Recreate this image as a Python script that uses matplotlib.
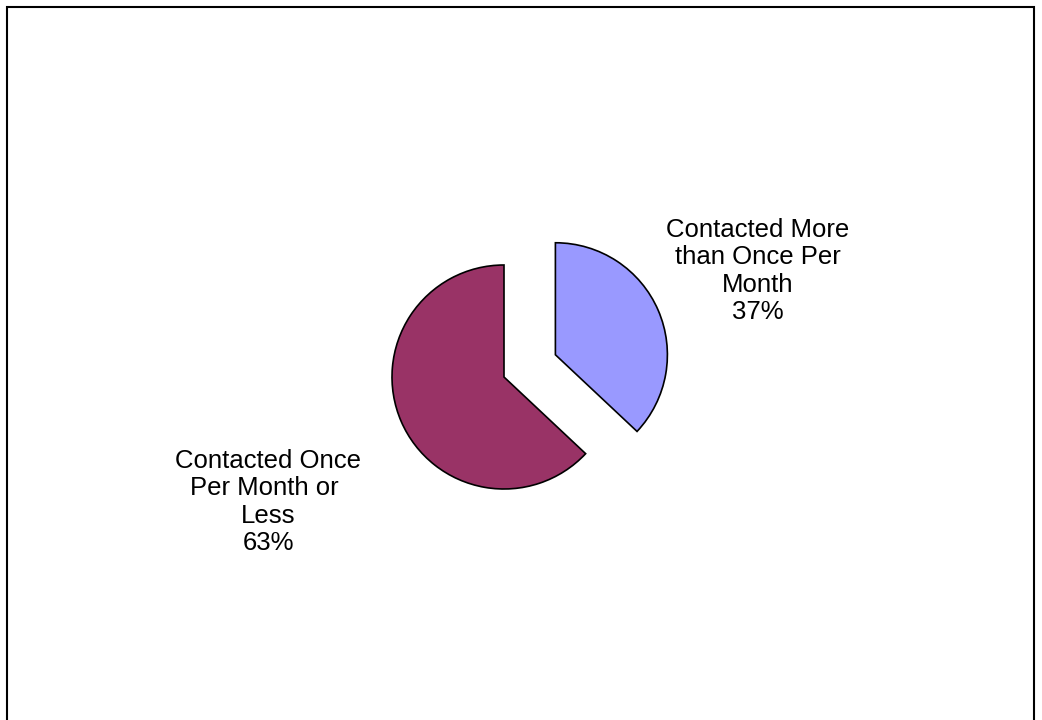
import matplotlib
matplotlib.use("Agg")
import matplotlib.pyplot as plt
from matplotlib.patches import Rectangle

# chart data
categories = ["Contacted More\nthan Once Per\nMonth", "Contacted Once\nPer Month or \nLess"]
shares = [37, 63]
colors = ["#9999FF", "#993366"]
explode = [0.5, 0.0]

plt.rcParams["font.family"] = ["Liberation Sans", "DejaVu Sans"]

W, H = 1042, 720
fig = plt.figure(figsize=(W / 100, H / 100), dpi=100)
ax = fig.add_axes([0, 0, 1, 1])

# pie center and radius in pixels
cx, cy, r = 504, 377, 112

ax.pie(shares, colors=colors, explode=explode, startangle=90, counterclock=False,
       radius=1, center=(0, 0),
       wedgeprops={"edgecolor": "black", "linewidth": 1.2})

ax.set_xlim(-cx / r, (W - cx) / r)
ax.set_ylim(-(H - cy) / r, cy / r)
ax.set_aspect("auto")
ax.axis("off")

# labels placed beside the slices
label_pos = [(758, 271), (268, 502)]
for cat, val, (px, py) in zip(categories, shares, label_pos):
    ax.text((px - cx) / r, (cy - py) / r, f"{cat}\n{val}%", ha="center", va="center",
            multialignment="center", fontsize=18.5, linespacing=1.18)

# outer frame
fig.patches.append(Rectangle((7 / W, -0.1), (1034 - 7) / W, 1.1 - 7 / H,
                             transform=fig.transFigure, fill=False,
                             edgecolor="black", linewidth=1.5))

fig.savefig("out.png", dpi=100, facecolor="white")
